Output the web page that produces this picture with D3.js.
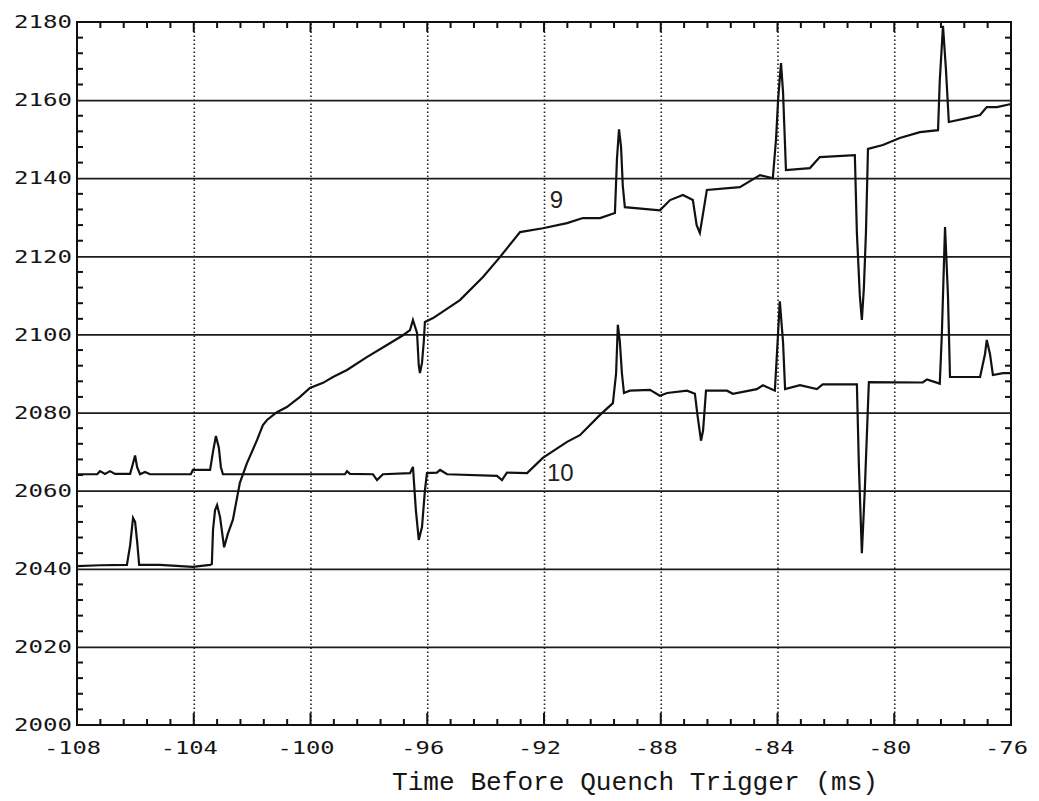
<!DOCTYPE html>
<html>
<head>
<meta charset="utf-8">
<script src="https://cdn.jsdelivr.net/npm/d3@7"></script>
<style>
  html, body { margin: 0; padding: 0; background: #ffffff; }
  svg { display: block; }
</style>
</head>
<body>
<svg id="chart" width="1039" height="801"></svg>
<script>
// ---------------- data ----------------
const xMajorTicks = [-108, -104, -100, -96, -92, -88, -84, -80, -76];
const yMajorTicks = [2000, 2020, 2040, 2060, 2080, 2100, 2120, 2140, 2160, 2180];
const xTitle = "Time Before Quench Trigger (ms)";
const seriesNames = ["9", "10"];

// Series "9" (upper trace)
const time9 = [-108.00, -107.21, -106.29, -106.18, -106.08, -106.01, -105.94, -105.87, -105.16, -104.03,
  -103.44, -103.38, -103.34, -103.27, -103.20, -103.10, -102.96, -102.83, -102.66, -102.42,
  -102.18, -101.83, -101.63, -101.49, -101.15, -100.81, -100.36, -100.02, -99.57, -99.23,
  -98.75, -98.07, -97.38, -96.83, -96.59, -96.49, -96.35, -96.29, -96.25, -96.18,
  -96.12, -96.08, -95.80, -94.88, -94.09, -93.51, -92.82, -92.04, -91.21, -90.67,
  -90.08, -89.57, -89.50, -89.43, -89.36, -89.30, -89.23, -88.03, -87.68, -87.24,
  -86.90, -86.77, -86.66, -86.55, -86.42, -85.29, -84.60, -84.16, -84.05, -83.98,
  -83.88, -83.81, -83.71, -82.89, -82.55, -81.35, -81.28, -81.18, -81.11, -81.04,
  -80.97, -80.90, -80.39, -79.81, -79.12, -78.50, -78.44, -78.33, -78.23, -78.13,
  -77.51, -77.06, -76.83, -76.48, -76.00];
const value9 = [2040.7, 2040.9, 2041.0, 2046.0, 2053.0, 2052.0, 2047.0, 2041.0, 2041.0, 2040.5,
  2041.0, 2041.2, 2050.0, 2055.0, 2056.3, 2053.3, 2045.5, 2049.0, 2052.5, 2062.0,
  2067.0, 2073.0, 2076.8, 2078.1, 2080.1, 2081.4, 2084.0, 2086.3, 2087.6, 2089.1,
  2090.9, 2094.2, 2097.3, 2099.8, 2101.1, 2103.7, 2100.4, 2092.0, 2090.1, 2092.7,
  2098.0, 2103.2, 2104.2, 2108.8, 2114.7, 2119.8, 2126.2, 2127.2, 2128.5, 2129.8,
  2129.8, 2131.1, 2145.0, 2152.5, 2148.0, 2138.0, 2132.6, 2131.8, 2134.4, 2135.7,
  2134.4, 2128.0, 2126.0, 2131.0, 2137.0, 2137.7, 2140.8, 2140.0, 2150.0, 2160.0,
  2169.5, 2162.0, 2142.1, 2142.6, 2145.4, 2145.9, 2126.0, 2110.0, 2103.7, 2112.0,
  2126.0, 2147.5, 2148.5, 2150.3, 2151.8, 2152.3, 2165.0, 2179.0, 2168.0, 2154.4,
  2155.4, 2156.2, 2158.2, 2158.2, 2159.0];

// Series "10" (lower trace)
const time10 = [-108.00, -107.31, -107.21, -107.04, -106.87, -106.70, -106.18, -106.08, -106.01, -105.94,
  -105.84, -105.67, -105.50, -104.10, -104.03, -103.44, -103.34, -103.24, -103.14, -103.07, -103.00,
  -98.82, -98.75, -98.65, -97.86, -97.72, -97.52, -96.59, -96.49, -96.39, -96.29,
  -96.18, -96.08, -96.01, -95.67, -95.56, -95.32, -93.61, -93.44, -93.27, -92.58,
  -92.04, -91.21, -90.77, -90.08, -89.64, -89.53, -89.47, -89.40, -89.33, -89.26,
  -89.06, -88.37, -88.03, -87.78, -87.10, -86.83, -86.73, -86.62, -86.55, -86.45,
  -85.73, -85.53, -84.71, -84.50, -84.09, -84.02, -83.92, -83.81, -83.74, -83.23,
  -82.65, -82.45, -81.28, -81.21, -81.11, -81.01, -80.87, -79.02, -78.88, -78.44,
  -78.37, -78.26, -78.16, -78.09, -77.06, -76.89, -76.83, -76.72, -76.62, -76.27,
  -76.00];
const value10 = [2064.2, 2064.2, 2065.0, 2064.3, 2065.0, 2064.3, 2064.3, 2067.0, 2069.0, 2066.0,
  2064.2, 2064.8, 2064.2, 2064.2, 2065.3, 2065.3, 2070.0, 2074.0, 2071.0, 2066.0, 2064.2,
  2064.2, 2065.0, 2064.3, 2064.2, 2062.7, 2064.2, 2064.5, 2066.1, 2055.0, 2047.4,
  2050.7, 2060.0, 2064.5, 2064.6, 2065.3, 2064.2, 2063.8, 2062.7, 2064.6, 2064.5,
  2068.4, 2072.5, 2074.2, 2079.4, 2082.4, 2090.0, 2102.5, 2098.0, 2090.0, 2085.0,
  2085.6, 2085.8, 2084.3, 2085.0, 2085.6, 2084.8, 2078.7, 2072.8, 2075.4, 2085.6,
  2085.6, 2084.8, 2086.0, 2087.0, 2085.6, 2095.0, 2108.5, 2098.0, 2086.0, 2087.0,
  2086.0, 2087.2, 2087.2, 2066.0, 2044.0, 2060.0, 2087.8, 2087.7, 2088.5, 2087.4,
  2100.0, 2127.5, 2110.0, 2089.1, 2089.1, 2095.0, 2098.6, 2095.0, 2089.6, 2090.1,
  2090.1];

// series label anchor positions (data coords)
const labelTime = [-91.8, -91.9];
const labelValue = [2132.5, 2062.5];

// ---------------- drawing ----------------
const svg = d3.select("#chart");
const plotLeft = 77, plotRight = 1011, plotTop = 22, plotBottom = 725;
const x = d3.scaleLinear().domain([-108, -76]).range([plotLeft, plotRight]);
const y = d3.scaleLinear().domain([2000, 2180]).range([plotBottom, plotTop]);
const plainFormat = d => String(d);   // ASCII hyphen-minus like the plotter labels

svg.append("rect").attr("width", 1039).attr("height", 801).attr("fill", "#ffffff");

// minor tick values
const xMinor = d3.range(0, 41).map(i => -108 + i * 0.8)
  .filter(v => Math.abs(((v + 108) / 4) - Math.round((v + 108) / 4)) > 1e-6);
const yMinor = d3.range(2004, 2180, 4).filter(v => v % 20 !== 0);

// horizontal gridlines
svg.append("g")
  .attr("transform", `translate(${plotLeft},0)`)
  .call(d3.axisLeft(y).tickValues(yMajorTicks.slice(1, -1)).tickSize(-(plotRight - plotLeft)).tickFormat(""))
  .call(g => g.select(".domain").remove())
  .call(g => g.selectAll("line").attr("stroke", "#1c1c1c").attr("stroke-width", 1.7));

// vertical dotted gridlines
svg.append("g")
  .attr("transform", `translate(0,${plotBottom})`)
  .call(d3.axisBottom(x).tickValues(xMajorTicks.slice(1, -1)).tickSize(-(plotBottom - plotTop)).tickFormat(""))
  .call(g => g.select(".domain").remove())
  .call(g => g.selectAll("line").attr("stroke", "#222").attr("stroke-width", 1.6).attr("stroke-dasharray", "1.6,2.4"));

// tick marks drawn explicitly (inward-pointing)
const ticksG = svg.append("g").attr("stroke", "#111").attr("stroke-width", 2);
const tl = 6;
// bottom minor
ticksG.selectAll("line.bmin").data(xMinor).join("line").attr("class", "bmin")
  .attr("x1", d => x(d)).attr("x2", d => x(d)).attr("y1", plotBottom).attr("y2", plotBottom - tl);
// top minor
ticksG.selectAll("line.tmin").data(xMinor).join("line").attr("class", "tmin")
  .attr("x1", d => x(d)).attr("x2", d => x(d)).attr("y1", plotTop).attr("y2", plotTop + tl);
// bottom major
ticksG.selectAll("line.bmaj").data(xMajorTicks).join("line").attr("class", "bmaj")
  .attr("x1", d => x(d)).attr("x2", d => x(d)).attr("y1", plotBottom).attr("y2", plotBottom - 12);
// top major
ticksG.selectAll("line.tmaj").data(xMajorTicks).join("line").attr("class", "tmaj")
  .attr("x1", d => x(d)).attr("x2", d => x(d)).attr("y1", plotTop).attr("y2", plotTop + 10);
// left minor
ticksG.selectAll("line.lmin").data(yMinor).join("line").attr("class", "lmin")
  .attr("x1", plotLeft).attr("x2", plotLeft + tl).attr("y1", d => y(d)).attr("y2", d => y(d));
// right minor
ticksG.selectAll("line.rmin").data(yMinor).join("line").attr("class", "rmin")
  .attr("x1", plotRight).attr("x2", plotRight - tl).attr("y1", d => y(d)).attr("y2", d => y(d));

// frame
svg.append("rect")
  .attr("x", plotLeft).attr("y", plotTop)
  .attr("width", plotRight - plotLeft).attr("height", plotBottom - plotTop)
  .attr("fill", "none").attr("stroke", "#111").attr("stroke-width", 2);

// y tick labels
const yLab = svg.append("g")
  .attr("transform", `translate(${plotLeft},0)`)
  .call(d3.axisLeft(y).tickValues(yMajorTicks).tickSize(0).tickPadding(5).tickFormat(plainFormat))
  .call(g => g.select(".domain").remove());
yLab.selectAll("text")
  .attr("font-family", "DejaVu Sans Mono, monospace")
  .attr("font-size", 18)
  .attr("fill", "#151515")
  .attr("textLength", 58)
  .attr("lengthAdjust", "spacingAndGlyphs");

// x tick labels
const xLab = svg.append("g")
  .attr("transform", `translate(-5,${plotBottom})`)
  .call(d3.axisBottom(x).tickValues(xMajorTicks).tickSize(0).tickPadding(16).tickFormat(plainFormat))
  .call(g => g.select(".domain").remove());
xLab.selectAll("text")
  .attr("font-family", "DejaVu Sans Mono, monospace")
  .attr("font-size", 18)
  .attr("fill", "#151515")
  .attr("textLength", d => String(d).length * 14.3)
  .attr("lengthAdjust", "spacingAndGlyphs");

// x axis title
svg.append("text")
  .attr("x", 392).attr("y", 790)
  .attr("font-family", "Liberation Mono, monospace")
  .attr("font-size", 26)
  .attr("fill", "#151515")
  .attr("textLength", 486)
  .attr("lengthAdjust", "spacingAndGlyphs")
  .text(xTitle);

// traces
const line = d3.line().x(d => x(d[0])).y(d => y(d[1]));
const series = [
  d3.zip(time9, value9),
  d3.zip(time10, value10)
];
svg.append("g").selectAll("path")
  .data(series)
  .join("path")
  .attr("d", line)
  .attr("fill", "none")
  .attr("stroke", "#111")
  .attr("stroke-width", 2.2)
  .attr("stroke-linejoin", "miter");

// series labels
svg.append("g").selectAll("text")
  .data(seriesNames)
  .join("text")
  .attr("x", (d, i) => x(labelTime[i]))
  .attr("y", (d, i) => y(labelValue[i]))
  .attr("font-family", "Liberation Sans, Arial, sans-serif")
  .attr("font-size", 24)
  .attr("fill", "#222")
  .text(d => d);
</script>
</body>
</html>
